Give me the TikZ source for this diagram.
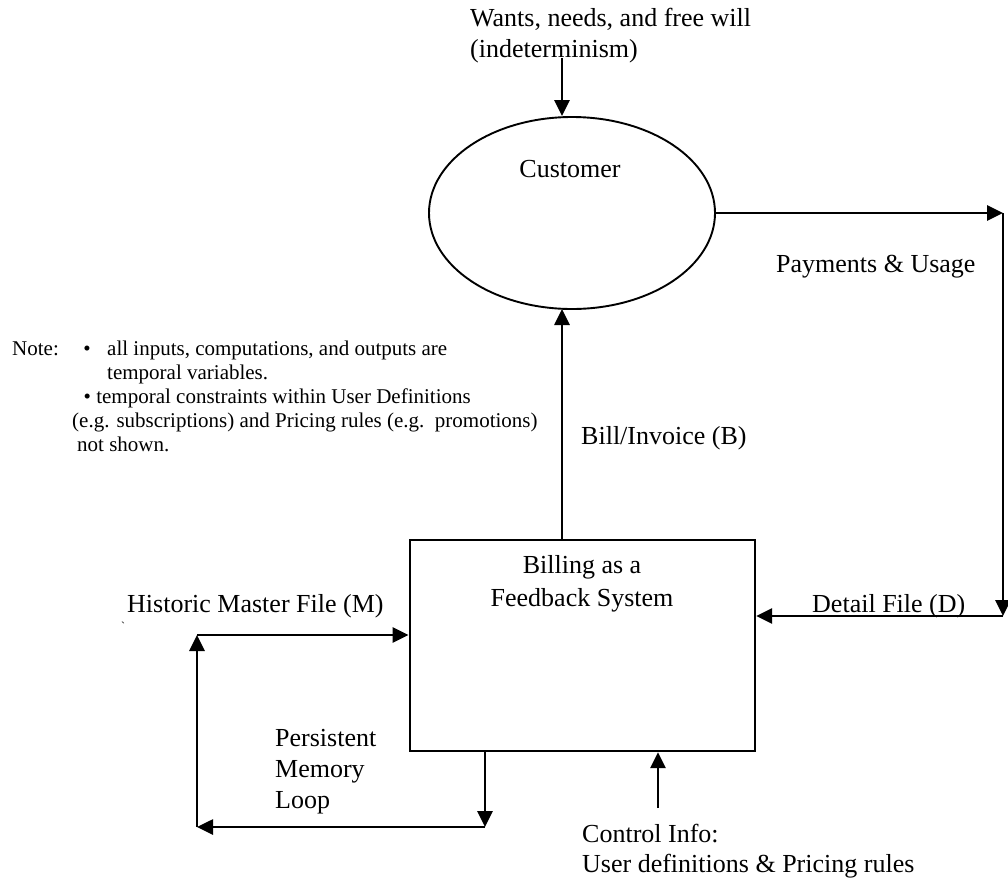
\documentclass[tikz,border=0pt]{standalone}
\usepackage{fontspec}
\setmainfont{Liberation Serif}
\usetikzlibrary{arrows.meta,shapes.geometric}
\begin{document}
\begin{tikzpicture}[x=1pt,y=-1pt,
  big/.style={font=\fontsize{26}{31}\selectfont, inner sep=0pt},
  small/.style={font=\fontsize{21}{24}\selectfont, inner sep=0pt},
  conn/.style={line width=2.7pt, -{Triangle[length=16pt,width=15pt]}},
]
\useasboundingbox (0,0) rectangle (1008,884);

% nodes
\node[ellipse, draw, line width=1.9pt, minimum width=286pt, minimum height=192pt, inner sep=0pt] (cust) at (572,213) {};
\node[big, anchor=base] (custlbl) at (570,177) {Customer};
\node[draw, line width=2.2pt, minimum width=345.5pt, minimum height=211pt, inner sep=0pt, anchor=north west] (bill) at (408.5,539) {};
\node[big, anchor=base] (bl1) at (582,573) {Billing as a};
\node[big, anchor=base] (bl2) at (582,606) {Feedback System};

% labels
\node[big, anchor=base west] (wants1) at (470,26) {Wants, needs, and free will};
\node[big, anchor=base west] (wants2) at (470,57) {(indeterminism)};
\node[big, anchor=base west] (pay) at (776,272) {Payments \& Usage};
\node[big, anchor=base west] (bi) at (581,444) {Bill/Invoice (B)};
\node[big, anchor=base west] (det) at (812,612) {Detail File (D)};
\node[big, anchor=base west] (hist) at (127,612) {Historic Master File (M)};
\node[font=\fontsize{12}{14}\selectfont, inner sep=0pt, anchor=base west] (tick) at (121,630) {\textasciigrave};
\node[big, anchor=base west] (pm1) at (275,746) {Persistent};
\node[big, anchor=base west] (pm2) at (275,777) {Memory};
\node[big, anchor=base west] (pm3) at (275,808) {Loop};
\node[big, anchor=base west] (ctl1) at (582,842) {Control Info:};
\node[big, anchor=base west] (ctl2) at (582,872) {User definitions \& Pricing rules};

% note
\node[small, anchor=base west] (note) at (12,355) {Note:};
\node[small, anchor=base] (nb1) at (87,355) {•};
\node[small, anchor=base west] (n1) at (107,355) {all inputs, computations, and outputs are};
\node[small, anchor=base west] (n2) at (107,379) {temporal variables.};
\node[small, anchor=base west] (n3) at (83.5,403) {• temporal constraints within User Definitions};
\node[small, anchor=base west] (n4) at (72,427) {(e.g. subscriptions) and Pricing rules (e.g.\ \ promotions)};
\node[small, anchor=base west] (n5) at (77,451) {not shown.};

% coordinates
\coordinate (wtop) at (562,58);
\coordinate (c1) at (1003,213);
\coordinate (c2) at (1003,616);
\coordinate (bx) at (562,309);
\coordinate (ci) at (658,808);
\coordinate (p1) at (485,827);
\coordinate (m0) at (197,827);
\coordinate (m1) at (197,635);

% connectors
\draw[conn] (wtop) -- (wtop |- cust.north);
\draw[conn] (cust.east) -- (c1);
\draw[conn] (c1) -- (c2);
\draw[conn] (c2) -- (c2 -| bill.east);
\draw[conn] (bx |- bill.north) -- (bx);
\draw[conn] (ci) -- (ci |- bill.south);
\draw[conn] (p1 |- bill.south) -- (p1);
\draw[conn] (p1) -- (m0);
\draw[conn] (m0) -- (m1);
\draw[conn] (m1) -- (m1 -| bill.west);
\end{tikzpicture}
\end{document}
